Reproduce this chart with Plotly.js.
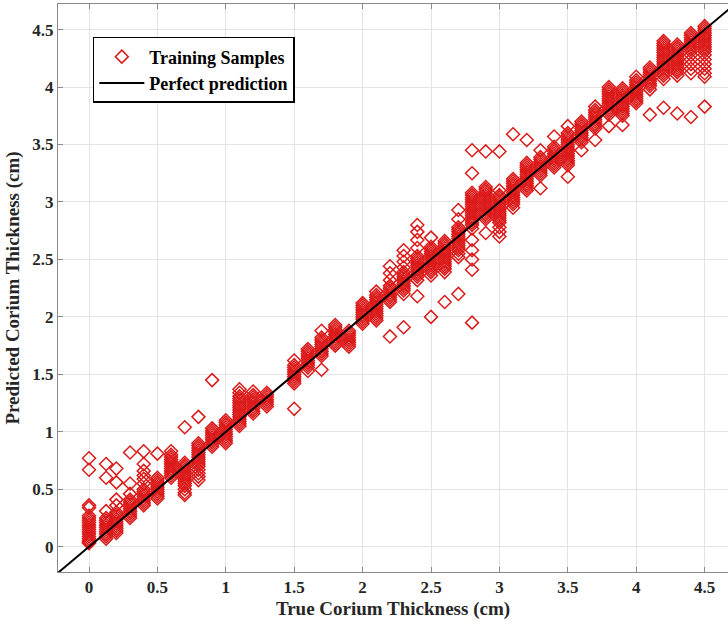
<!DOCTYPE html>
<html>
<head>
<meta charset="utf-8">
<script src="https://cdn.plot.ly/plotly-3.0.1.min.js"></script>
<style>html,body{margin:0;padding:0;background:#fff;overflow:hidden;}#chart{width:728px;height:624px;}</style>
</head>
<body>
<div id="chart"></div>
<script>
// True corium thickness values (cm) at which samples were taken
const trueValues = [0, 0.125, 0.2, 0.3, 0.4, 0.5, 0.6, 0.7, 0.8, 0.9, 1.0, 1.1, 1.2, 1.3,
  1.5, 1.6, 1.7, 1.8, 1.9, 2.0, 2.1, 2.2, 2.3, 2.4, 2.5, 2.6, 2.7, 2.8, 2.9, 3.0,
  3.1, 3.2, 3.3, 3.4, 3.5, 3.6, 3.7, 3.8, 3.9, 4.0, 4.1, 4.2, 4.3, 4.4, 4.5];

// Predicted thickness values (cm) for each true value above
const predictedGroups = [
  [0.77, 0.67, 0.36, 0.34, 0.27, 0.25, 0.23, 0.21, 0.19, 0.17, 0.15, 0.13, 0.11, 0.09, 0.07, 0.05, 0.04, 0.03],
  [0.72, 0.6, 0.31, 0.25, 0.23, 0.21, 0.19, 0.17, 0.15, 0.13, 0.11, 0.09, 0.07],
  [0.68, 0.56, 0.41, 0.36, 0.3, 0.28, 0.26, 0.24, 0.22, 0.2, 0.18, 0.16, 0.14, 0.12],
  [0.82, 0.55, 0.46, 0.41, 0.39, 0.37, 0.35, 0.33, 0.31, 0.29, 0.27, 0.25],
  [0.83, 0.72, 0.66, 0.62, 0.59, 0.55, 0.5, 0.48, 0.46, 0.44, 0.42, 0.4, 0.38, 0.36],
  [0.81, 0.6, 0.58, 0.56, 0.54, 0.52, 0.5, 0.48, 0.46, 0.44, 0.42],
  [0.83, 0.8, 0.78, 0.76, 0.74, 0.72, 0.7, 0.68, 0.66, 0.64, 0.62, 0.6],
  [1.04, 0.73, 0.71, 0.69, 0.67, 0.65, 0.63, 0.61, 0.59, 0.57, 0.55, 0.53, 0.5, 0.47, 0.45],
  [1.13, 0.9, 0.88, 0.86, 0.84, 0.82, 0.8, 0.78, 0.76, 0.74, 0.72, 0.7, 0.67, 0.64, 0.61, 0.58],
  [1.45, 1.03, 1.01, 0.99, 0.97, 0.95, 0.93, 0.91, 0.89, 0.87],
  [1.1, 1.08, 1.06, 1.04, 1.02, 1.0, 0.98, 0.96, 0.94, 0.92, 0.9],
  [1.37, 1.34, 1.31, 1.29, 1.27, 1.25, 1.23, 1.21, 1.19, 1.17, 1.15, 1.13, 1.11, 1.09, 1.07, 1.05],
  [1.35, 1.32, 1.3, 1.28, 1.26, 1.24, 1.22, 1.2, 1.18, 1.16],
  [1.34, 1.32, 1.3, 1.28, 1.26, 1.24, 1.22],
  [1.62, 1.58, 1.56, 1.54, 1.52, 1.5, 1.48, 1.46, 1.44, 1.42, 1.2],
  [1.72, 1.7, 1.68, 1.66, 1.64, 1.62, 1.6, 1.58, 1.56, 1.53],
  [1.88, 1.82, 1.8, 1.78, 1.76, 1.74, 1.72, 1.7, 1.68, 1.66, 1.54],
  [1.93, 1.91, 1.89, 1.87, 1.85, 1.83, 1.81, 1.79, 1.77, 1.75],
  [1.88, 1.86, 1.84, 1.82, 1.8, 1.78, 1.76, 1.74],
  [2.12, 2.1, 2.08, 2.06, 2.04, 2.02, 2.0, 1.98, 1.96, 1.94],
  [2.22, 2.19, 2.17, 2.15, 2.13, 2.11, 2.09, 2.07, 2.05, 2.03, 2.01, 1.99, 1.97],
  [2.44, 2.38, 2.32, 2.27, 2.25, 2.23, 2.21, 2.19, 2.17, 2.15, 2.13, 1.83],
  [2.58, 2.53, 2.48, 2.43, 2.39, 2.37, 2.35, 2.33, 2.31, 2.29, 2.27, 2.25, 2.23, 2.2, 1.91],
  [2.8, 2.74, 2.67, 2.6, 2.53, 2.51, 2.49, 2.47, 2.45, 2.43, 2.41, 2.39, 2.37, 2.35, 2.32, 2.18],
  [2.69, 2.61, 2.59, 2.57, 2.55, 2.53, 2.51, 2.49, 2.47, 2.45, 2.43, 2.41, 2.39, 2.36, 2.0],
  [2.66, 2.64, 2.62, 2.6, 2.58, 2.56, 2.54, 2.52, 2.5, 2.48, 2.46, 2.44, 2.42, 2.39, 2.13],
  [2.93, 2.85, 2.78, 2.76, 2.74, 2.72, 2.7, 2.68, 2.66, 2.64, 2.62, 2.6, 2.58, 2.55, 2.52, 2.2],
  [3.45, 3.25, 3.08, 3.06, 3.04, 3.02, 3.0, 2.98, 2.96, 2.94, 2.92, 2.9, 2.88, 2.86, 2.84, 2.82, 2.8, 2.77, 2.67, 2.58, 2.5, 2.41, 1.95],
  [3.44, 3.13, 3.11, 3.09, 3.07, 3.05, 3.03, 3.01, 2.99, 2.97, 2.95, 2.93, 2.91, 2.89, 2.87, 2.85, 2.73],
  [3.44, 3.1, 3.06, 3.04, 3.02, 3.0, 2.98, 2.96, 2.94, 2.92, 2.9, 2.88, 2.86, 2.84, 2.82, 2.78, 2.74, 2.7],
  [3.59, 3.2, 3.18, 3.16, 3.14, 3.12, 3.1, 3.08, 3.06, 3.04, 3.02, 3.0, 2.98, 2.95],
  [3.54, 3.34, 3.32, 3.3, 3.28, 3.26, 3.24, 3.22, 3.2, 3.18, 3.16, 3.14, 3.12, 3.1],
  [3.45, 3.39, 3.37, 3.35, 3.33, 3.31, 3.29, 3.27, 3.25, 3.23, 3.12],
  [3.57, 3.48, 3.46, 3.44, 3.42, 3.4, 3.38, 3.36, 3.34, 3.32, 3.3],
  [3.66, 3.6, 3.58, 3.56, 3.54, 3.52, 3.5, 3.48, 3.46, 3.44, 3.42, 3.4, 3.38, 3.36, 3.34, 3.32, 3.22],
  [3.7, 3.68, 3.66, 3.64, 3.62, 3.6, 3.58, 3.56, 3.54, 3.52, 3.45],
  [3.83, 3.8, 3.78, 3.76, 3.74, 3.72, 3.7, 3.68, 3.66, 3.64, 3.54],
  [4.0, 3.98, 3.96, 3.94, 3.92, 3.9, 3.88, 3.86, 3.84, 3.82, 3.8, 3.78, 3.76, 3.66],
  [3.99, 3.97, 3.95, 3.93, 3.91, 3.89, 3.87, 3.85, 3.83, 3.81, 3.79, 3.77, 3.75, 3.67],
  [4.09, 4.06, 4.04, 4.02, 4.0, 3.98, 3.96, 3.94, 3.92, 3.9, 3.88, 3.86],
  [4.17, 4.15, 4.13, 4.11, 4.09, 4.07, 4.05, 4.03, 4.01, 3.98, 3.76],
  [4.4, 4.38, 4.36, 4.34, 4.32, 4.3, 4.28, 4.26, 4.24, 4.22, 4.2, 4.18, 4.16, 4.14, 4.12, 4.1, 4.07, 3.82],
  [4.37, 4.35, 4.33, 4.31, 4.29, 4.27, 4.25, 4.23, 4.21, 4.19, 4.17, 4.15, 4.13, 4.1, 3.77],
  [4.47, 4.45, 4.43, 4.41, 4.39, 4.37, 4.35, 4.33, 4.31, 4.28, 4.24, 4.2, 4.16, 4.12, 3.74],
  [4.53, 4.51, 4.49, 4.47, 4.45, 4.43, 4.41, 4.39, 4.37, 4.35, 4.33, 4.31, 4.28, 4.24, 4.2, 4.16, 4.12, 4.09, 3.83]
];

// Perfect prediction reference line endpoints (y = x)
const perfectLine = [-0.3, 4.8];

const xTicks = [0, 0.5, 1, 1.5, 2, 2.5, 3, 3.5, 4, 4.5];
const xTickText = ['0', '0.5', '1', '1.5', '2', '2.5', '3', '3.5', '4', '4.5'];
const yTicks = [0, 0.5, 1, 1.5, 2, 2.5, 3, 3.5, 4, 4.5];
const yTickText = ['0', '0.5', '1', '1.5', '2', '2.5', '3', '3.5', '4', '4.5'];

const sx = [], sy = [];
trueValues.forEach((t, i) => {
  predictedGroups[i].forEach(p => { sx.push(t); sy.push(p); });
});

const serif = 'Liberation Serif, Times New Roman, serif';

const traces = [
  {
    type: 'scatter', mode: 'markers', name: 'Training Samples',
    x: sx, y: sy,
    marker: {symbol: 'diamond-open', size: 10, color: '#dc1a1a', line: {width: 1.5, color: '#dc1a1a'}},
    cliponaxis: true
  },
  {
    type: 'scatter', mode: 'lines', name: 'Perfect prediction',
    x: perfectLine, y: perfectLine,
    line: {color: '#000000', width: 2}
  }
];

const axisCommon = {
  showgrid: true, gridcolor: '#e3e3e3', gridwidth: 1,
  zeroline: false, showline: true, linecolor: '#8a8a8a', linewidth: 1,
  ticks: 'inside', ticklen: 5, tickcolor: '#8a8a8a', tickwidth: 1,
  tickfont: {family: serif, size: 17, color: '#262626', weight: 'bold'}
};

const layout = {
  width: 728, height: 624,
  margin: {l: 58, r: 0, t: 4, b: 52},
  paper_bgcolor: '#ffffff', plot_bgcolor: '#ffffff',
  showlegend: true,
  legend: {
    x: 0.052, y: 0.942, xanchor: 'left', yanchor: 'top',
    bgcolor: '#ffffff', bordercolor: '#000000', borderwidth: 1.5,
    font: {family: serif, size: 18, color: '#000000', weight: 'bold'},
    itemwidth: 45, tracegroupgap: 0
  },
  xaxis: Object.assign({}, axisCommon, {
    range: [-0.2266, 4.671], mirror: 'ticks',
    tickvals: xTicks, ticktext: xTickText,
    title: {text: 'True Corium Thickness (cm)', standoff: 5,
      font: {family: serif, size: 19, color: '#262626', weight: 'bold'}}
  }),
  yaxis: Object.assign({}, axisCommon, {
    range: [-0.22, 4.723], mirror: false,
    tickvals: yTicks, ticktext: yTickText,
    title: {text: 'Predicted Corium Thickness (cm)', standoff: 7,
      font: {family: serif, size: 19, color: '#262626', weight: 'bold'}}
  })
};

Plotly.newPlot('chart', traces, layout, {displayModeBar: false, staticPlot: true});
</script>
</body>
</html>
